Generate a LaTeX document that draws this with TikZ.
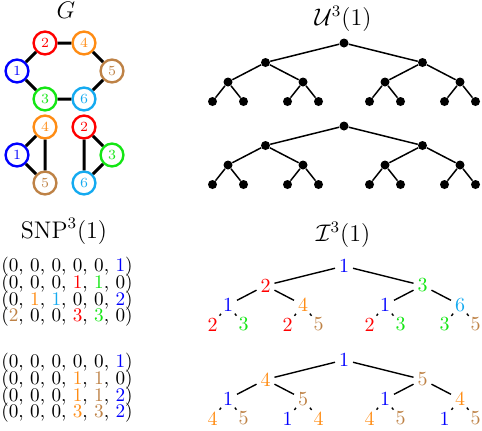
\documentclass[tikz,border=0pt]{standalone}
\usepackage{xcolor}
\usepackage{tikz}
\definecolor{Vtx1}{RGB}{0, 0, 255}
\definecolor{Vtx2}{RGB}{255, 0, 0}
\definecolor{Vtx3}{RGB}{20, 230, 20}
\definecolor{Vtx4}{RGB}{255, 140, 20}
\definecolor{Vtx5}{RGB}{190, 130, 70}
\definecolor{Vtx6}{RGB}{20, 170, 240}
\newcommand\vl[1]{\textcolor{Vtx#1}{#1}}
\lineskiplimit=-100pt
\tikzset{
  gvert/.style={circle, draw=Vtx#1, line width=1.2pt, minimum size=11.4pt, inner sep=0pt,
                font=\fontsize{7}{8}\selectfont, text=Vtx#1},
  gedge/.style={line width=1.5pt},
  title/.style={font=\fontsize{12}{14}\selectfont},
  tuples/.style={anchor=north west, inner sep=0pt, align=left,
                 font=\fontsize{9.6}{8.35}\selectfont},
  bintree/.style={level distance=9.75pt,
                  level 1/.style={sibling distance=78.5pt},
                  level 2/.style={sibling distance=37.5pt},
                  level 3/.style={sibling distance=15.5pt}},
  udot/.style={circle, fill, inner sep=0pt, minimum size=4.5pt},
  utree/.style={bintree, every child node/.style={udot},
                edge from parent/.style={draw, line width=0.75pt}},
  ilab/.style={inner sep=1.8pt, font=\fontsize{10}{12}\selectfont},
  itree/.style={bintree, every child node/.style={ilab},
                edge from parent/.style={draw, line width=0.7pt}}
}

\begin{document}
\begin{tikzpicture}[x=0.5pt,y=-0.5pt]
  \path[use as bounding box] (0,0) rectangle (482,430);

  % graph G
  \node[title] (gtitle) at (66,10) {$G$};
  \node[gvert=1] (g1) at (17,71) {1};
  \node[gvert=2] (g2) at (45,43) {2};
  \node[gvert=3] (g3) at (45,99) {3};
  \node[gvert=4] (g4) at (84,43) {4};
  \node[gvert=5] (g5) at (112,71) {5};
  \node[gvert=6] (g6) at (84,99) {6};
  \draw[gedge] (g1) -- (g2) -- (g4) -- (g5) -- (g6) -- (g3) -- (g1);

  \node[gvert=1] (p1) at (17,155) {1};
  \node[gvert=4] (p4) at (45,127) {4};
  \node[gvert=5] (p5) at (45,183) {5};
  \draw[gedge] (p1) -- (p4) -- (p5) -- (p1);

  \node[gvert=2] (q2) at (84,127) {2};
  \node[gvert=3] (q3) at (112,155) {3};
  \node[gvert=6] (q6) at (84,183) {6};
  \draw[gedge] (q2) -- (q3) -- (q6) -- (q2);

  % SNP^3(1)
  \node[title] (stitle) at (64,231) {$\mathrm{SNP}^3(1)$};
  \node[tuples] (sa) at (1,257) {%
    (0, 0, 0, 0, 0, \vl{1})\\
    (0, 0, 0, \textcolor{Vtx2}{1}, \textcolor{Vtx3}{1}, 0)\\
    (0, \textcolor{Vtx4}{1}, \textcolor{Vtx6}{1}, 0, 0, \textcolor{Vtx1}{2})\\
    (\textcolor{Vtx5}{2}, 0, 0, \textcolor{Vtx2}{3}, \textcolor{Vtx3}{3}, 0)};
  \node[tuples] (sb) at (1,353) {%
    (0, 0, 0, 0, 0, \vl{1})\\
    (0, 0, 0, \textcolor{Vtx4}{1}, \textcolor{Vtx5}{1}, 0)\\
    (0, 0, 0, \textcolor{Vtx4}{1}, \textcolor{Vtx5}{1}, \textcolor{Vtx1}{2})\\
    (0, 0, 0, \textcolor{Vtx4}{3}, \textcolor{Vtx5}{3}, \textcolor{Vtx1}{2})};

  % U^3(1)
  \node[title] (utitle) at (343,19) {$\mathcal{U}^3(1)$};
  \node[udot] (ua) at (344,43) {} [utree]
    child {node {} child {node {} child {node {}} child {node {}}}
                   child {node {} child {node {}} child {node {}}}}
    child {node {} child {node {} child {node {}} child {node {}}}
                   child {node {} child {node {}} child {node {}}}};
  \node[udot] (ub) at (344,126) {} [utree]
    child {node {} child {node {} child {node {}} child {node {}}}
                   child {node {} child {node {}} child {node {}}}}
    child {node {} child {node {} child {node {}} child {node {}}}
                   child {node {} child {node {}} child {node {}}}};

  % I^3(1)
  \node[title] (ititle) at (343,235) {$\mathcal{I}^3(1)$};
  \node[ilab] (ia) at (344,266) {\vl1} [itree]
    child {node {\vl2} child {node {\vl1} child {node {\vl2}} child {node {\vl3}}}
                       child {node {\vl4} child {node {\vl2}} child {node {\vl5}}}}
    child {node {\vl3} child {node {\vl1} child {node {\vl2}} child {node {\vl3}}}
                       child {node {\vl6} child {node {\vl3}} child {node {\vl5}}}};
  \node[ilab] (ib) at (344,360) {\vl1} [itree]
    child {node {\vl4} child {node {\vl1} child {node {\vl4}} child {node {\vl5}}}
                       child {node {\vl5} child {node {\vl1}} child {node {\vl4}}}}
    child {node {\vl5} child {node {\vl1} child {node {\vl4}} child {node {\vl5}}}
                       child {node {\vl4} child {node {\vl1}} child {node {\vl5}}}};
\end{tikzpicture}
\end{document}
